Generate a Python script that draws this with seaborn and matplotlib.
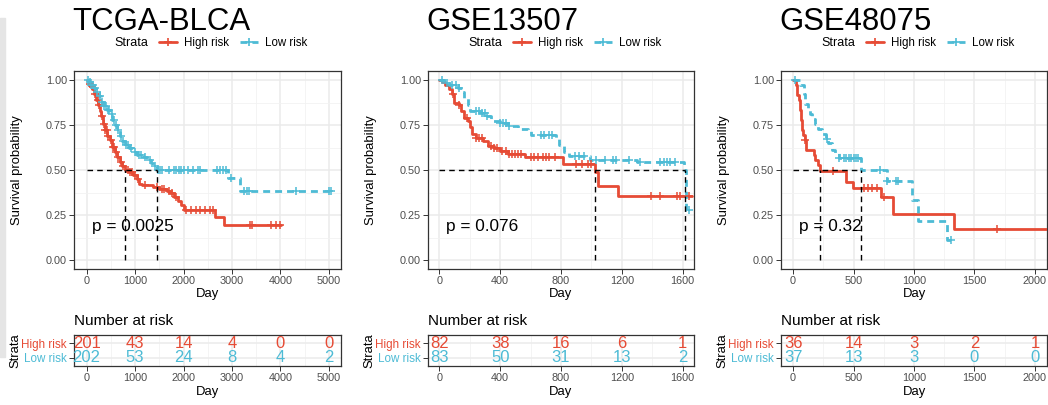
import numpy as np
import pandas as pd
import seaborn as sns
import matplotlib.pyplot as plt
from matplotlib.lines import Line2D
from matplotlib.patches import Rectangle
from matplotlib.ticker import MultipleLocator

RED = "#E64B35"
BLUE = "#4DBBD5"

titles = ["TCGA-BLCA", "GSE13507", "GSE48075"]
strata = ["High risk", "Low risk"]
pvals = ["p = 0.0025", "p = 0.076", "p = 0.32"]

# ---- TCGA-BLCA ----
tcga_high_t = [0, 40, 80, 120, 160, 200, 240, 270, 300, 340, 380, 430, 480, 530, 580, 630, 680, 740,
               800, 880, 960, 1030, 1080, 1150, 1370, 1500, 1650, 1720, 1800, 1880, 1950, 2000,
               2645, 2830, 4020]
tcga_high_s = [1.0, 0.98, 0.965, 0.95, 0.92, 0.89, 0.86, 0.83, 0.80, 0.755, 0.72, 0.69, 0.665, 0.63,
               0.60, 0.57, 0.545, 0.52, 0.50, 0.49, 0.475, 0.45, 0.425, 0.415, 0.405, 0.395, 0.385,
               0.37, 0.35, 0.33, 0.305, 0.278, 0.24, 0.194, 0.194]
tcga_high_cens = [60, 110, 170, 230, 260, 310, 350, 390, 420, 450, 500, 540, 560, 610, 650, 700, 760,
                  850, 900, 930, 1000, 1060, 1200, 1450, 1550, 1600, 1700, 1760, 1850, 2050, 2150,
                  2250, 2350, 2450, 2550, 2600, 3370, 3420, 3800, 3900, 3990]
tcga_low_t = [0, 50, 100, 150, 200, 250, 300, 350, 420, 480, 530, 580, 630, 680, 740, 800, 880, 960,
              1050, 1150, 1250, 1320, 1380, 1450, 2920, 3160, 5090]
tcga_low_s = [1.0, 0.99, 0.975, 0.955, 0.935, 0.91, 0.88, 0.855, 0.835, 0.81, 0.78, 0.75, 0.72, 0.69,
              0.66, 0.64, 0.62, 0.60, 0.585, 0.57, 0.555, 0.54, 0.52, 0.50, 0.453, 0.385, 0.385]
tcga_low_cens = [20, 60, 100, 140, 180, 220, 280, 320, 360, 400, 440, 470, 520, 560, 600, 650, 700, 760,
                 820, 860, 920, 1000, 1080, 1130, 1200, 1300, 1420, 1480, 1520, 1560, 1700, 1800, 1850,
                 1900, 1950, 2000, 2100, 2200, 2300, 2350, 2700, 2760, 2820, 2880, 2990, 3250, 3300,
                 3350, 4330, 5000, 5040]
tcga_medians = [800, 1450]
tcga_risk_times = [0, 1000, 2000, 3000, 4000, 5000]
tcga_risk_high = [201, 43, 14, 4, 0, 0]
tcga_risk_low = [202, 53, 24, 8, 4, 2]

# ---- GSE13507 ----
g135_high_t = [0, 20, 40, 60, 80, 95, 130, 140, 160, 185, 200, 215, 240, 290, 320, 360, 400, 450, 560,
               810, 1024, 1041, 1173, 1660]
g135_high_s = [1.0, 0.99, 0.975, 0.95, 0.92, 0.875, 0.86, 0.83, 0.79, 0.775, 0.74, 0.70, 0.68, 0.66,
               0.635, 0.62, 0.605, 0.59, 0.57, 0.535, 0.49, 0.41, 0.355, 0.355]
g135_high_cens = [90, 130, 180, 240, 260, 280, 340, 360, 380, 410, 440, 460, 480, 500, 520, 540, 600,
                  620, 650, 680, 700, 720, 760, 900, 940, 980, 1000, 1390, 1450, 1560, 1580, 1640]
g135_low_t = [0, 30, 60, 120, 150, 165, 185, 200, 270, 310, 340, 400, 450, 520, 580, 600, 770, 790,
              820, 850, 990, 1300, 1612, 1620, 1648]
g135_low_s = [1.0, 0.985, 0.97, 0.955, 0.935, 0.90, 0.86, 0.83, 0.815, 0.80, 0.775, 0.76, 0.745, 0.73,
              0.72, 0.695, 0.675, 0.64, 0.60, 0.577, 0.555, 0.545, 0.50, 0.277, 0.277]
g135_low_cens = [20, 50, 80, 110, 130, 240, 260, 280, 300, 310, 400, 420, 440, 460, 670, 690, 720, 740,
                 890, 920, 950, 1030, 1090, 1140, 1160, 1250, 1320, 1450, 1480, 1500, 1520, 1550, 1645]
g135_medians = [1026, 1615]
g135_risk_times = [0, 400, 800, 1200, 1600]
g135_risk_high = [82, 38, 16, 6, 1]
g135_risk_low = [83, 50, 31, 13, 2]

# ---- GSE48075 ----
g480_high_t = [0, 25, 35, 45, 55, 65, 75, 85, 95, 105, 175, 185, 205, 225, 438, 495, 727, 824, 1333,
               2120]
g480_high_s = [1.0, 0.972, 0.917, 0.889, 0.833, 0.778, 0.722, 0.694, 0.667, 0.611, 0.583, 0.556, 0.528,
               0.494, 0.433, 0.40, 0.35, 0.257, 0.17, 0.17]
g480_high_cens = [100, 330, 590, 620, 650, 690, 755, 1690]
g480_low_t = [0, 60, 90, 100, 120, 140, 160, 185, 210, 240, 270, 290, 320, 345, 380, 558, 774, 985,
              1036, 1270, 1311]
g480_low_s = [1.0, 0.973, 0.92, 0.865, 0.838, 0.81, 0.783, 0.756, 0.729, 0.70, 0.675, 0.648, 0.61,
              0.595, 0.567, 0.50, 0.44, 0.333, 0.218, 0.11, 0.11]
g480_low_cens = [15, 280, 380, 420, 440, 460, 480, 500, 520, 540, 720, 780, 850, 870, 1305]
g480_medians = [225, 558]
g480_risk_times = [0, 500, 1000, 1500, 2000]
g480_risk_high = [36, 14, 3, 2, 1]
g480_risk_low = [37, 13, 3, 0, 0]

panels = [
    dict(curves=[(tcga_high_t, tcga_high_s, tcga_high_cens), (tcga_low_t, tcga_low_s, tcga_low_cens)],
         medians=tcga_medians, risk_t=tcga_risk_times, risk=[tcga_risk_high, tcga_risk_low],
         xlim=(-260, 5250), step=1000, left=74, right=341),
    dict(curves=[(g135_high_t, g135_high_s, g135_high_cens), (g135_low_t, g135_low_s, g135_low_cens)],
         medians=g135_medians, risk_t=g135_risk_times, risk=[g135_risk_high, g135_risk_low],
         xlim=(-75, 1675), step=400, left=428, right=694),
    dict(curves=[(g480_high_t, g480_high_s, g480_high_cens), (g480_low_t, g480_low_s, g480_low_cens)],
         medians=g480_medians, risk_t=g480_risk_times, risk=[g480_risk_high, g480_risk_low],
         xlim=(-100, 2100), step=500, left=781, right=1047),
]

sns.set_theme(style="whitegrid")
plt.rcParams["font.family"] = ["Liberation Sans", "DejaVu Sans"]
plt.rcParams["text.color"] = "black"
plt.rcParams["axes.labelcolor"] = "black"

W, H = 1048, 405
fig = plt.figure(figsize=(W / 100, H / 100), dpi=100)
fig.patches.append(Rectangle((0, (H - 357) / H), 5 / W, (357 - 18) / H,
                             transform=fig.transFigure, color="#E5E5E5", zorder=0))

colors = [RED, BLUE]
styles = ["-", (0, (2.5, 1.8))]


def style_axes(ax, step):
    ax.set_facecolor("white")
    for sp in ax.spines.values():
        sp.set_color("#333333")
        sp.set_linewidth(0.9)
    ax.xaxis.set_major_locator(MultipleLocator(step))
    ax.xaxis.set_minor_locator(MultipleLocator(step / 2))
    ax.grid(True, which="major", color="#EBEBEB", lw=1.1)
    ax.grid(True, which="minor", color="#F2F2F2", lw=0.6)
    ax.set_axisbelow(True)
    ax.tick_params(which="major", length=3.5, width=0.7, color="#333333",
                   labelcolor="#4D4D4D", labelsize=7.8, pad=1.5, bottom=True, left=True)
    ax.tick_params(which="minor", length=0)


def step_val(t, s, x):
    idx = np.searchsorted(np.asarray(t), x, side="right") - 1
    return np.asarray(s)[idx]


for i, p in enumerate(panels):
    L, R = p["left"], p["right"]
    ax = fig.add_axes([L / W, (H - 269) / H, (R - L) / W, 198 / H])
    style_axes(ax, p["step"])
    ax.yaxis.set_major_locator(MultipleLocator(0.25))
    ax.yaxis.set_minor_locator(MultipleLocator(0.125))
    ax.set_yticks([0, 0.25, 0.5, 0.75, 1.0], ["0.00", "0.25", "0.50", "0.75", "1.00"])

    for (t, s, c), col, ls in zip(p["curves"], colors, styles):
        df = pd.DataFrame({"Day": t, "surv": s})
        sns.lineplot(data=df, x="Day", y="surv", drawstyle="steps-post", estimator=None, sort=False,
                     color=col, lw=2.0, linestyle=ls, ax=ax, zorder=3)
        cs = step_val(t, s, c)
        sns.scatterplot(x=c, y=cs, marker="+", s=32, color=col, linewidth=1.1, ax=ax, zorder=4)

    med = p["medians"]
    ax.hlines(0.5, 0, max(med), color="black", lw=1.0, linestyles=(0, (4, 3)), zorder=5)
    ax.vlines(med, 0, 0.5, color="black", lw=1.0, linestyles=(0, (4, 3)), zorder=5)

    ax.text(0.067, 0.217, pvals[i], transform=ax.transAxes, fontsize=12.4, va="center", zorder=6)
    ax.set_xlim(*p["xlim"])
    ax.set_ylim(-0.05, 1.05)
    ax.set_xlabel("Day", fontsize=9.4)
    ax.set_ylabel("Survival probability", fontsize=9.4)
    ax.xaxis.set_label_coords(0.5, -0.097)
    ax.yaxis.set_label_coords(-0.19, 0.5)

    # title + legend
    fig.text((L - 2) / W, (H - 29.5) / H, titles[i], fontsize=22.4, va="baseline", ha="left")
    fig.text((L + 40) / W, (H - 43) / H, "Strata", fontsize=9, va="center", ha="left")
    handles = [Line2D([], [], color=RED, lw=2, marker="+", markersize=6, markeredgewidth=1.2),
               Line2D([], [], color=BLUE, lw=2, ls=(0, (2.5, 1.8)), marker="+", markersize=6,
                      markeredgewidth=1.2)]
    fig.legend(handles, strata, loc="center left", bbox_to_anchor=((L + 85) / W, (H - 43) / H),
               ncol=2, frameon=False, fontsize=8.3, handlelength=1.55, handletextpad=0.6,
               columnspacing=1.0, borderpad=0, borderaxespad=0)

    # risk table
    rax = fig.add_axes([L / W, (H - 366) / H, (R - L) / W, 31 / H])
    style_axes(rax, p["step"])
    rax.set_xlim(*p["xlim"])
    rax.set_ylim(0.4, 2.6)
    rax.set_yticks([2, 1], strata)
    rax.yaxis.grid(True, which="major", color="#EBEBEB", lw=1.1)
    for lab, col in zip(rax.get_yticklabels(), colors):
        lab.set_color(col)
        lab.set_fontsize(8.4)
    for row, yv, col in zip(p["risk"], [2, 1], colors):
        for tx, n in zip(p["risk_t"], row):
            rax.text(tx, yv, str(n), ha="center", va="center", fontsize=12, color=col, clip_on=False)
    rax.set_xlabel("Day", fontsize=9.4)
    rax.set_ylabel("Strata", fontsize=9.4)
    rax.xaxis.set_label_coords(0.5, -0.645)
    rax.yaxis.set_label_coords(-0.197, 0.5)
    rax.text(0.0, 1 + 10 / 31, "Number at risk", transform=rax.transAxes, fontsize=11,
             va="baseline", ha="left")

fig.savefig("out.png", dpi=100)
